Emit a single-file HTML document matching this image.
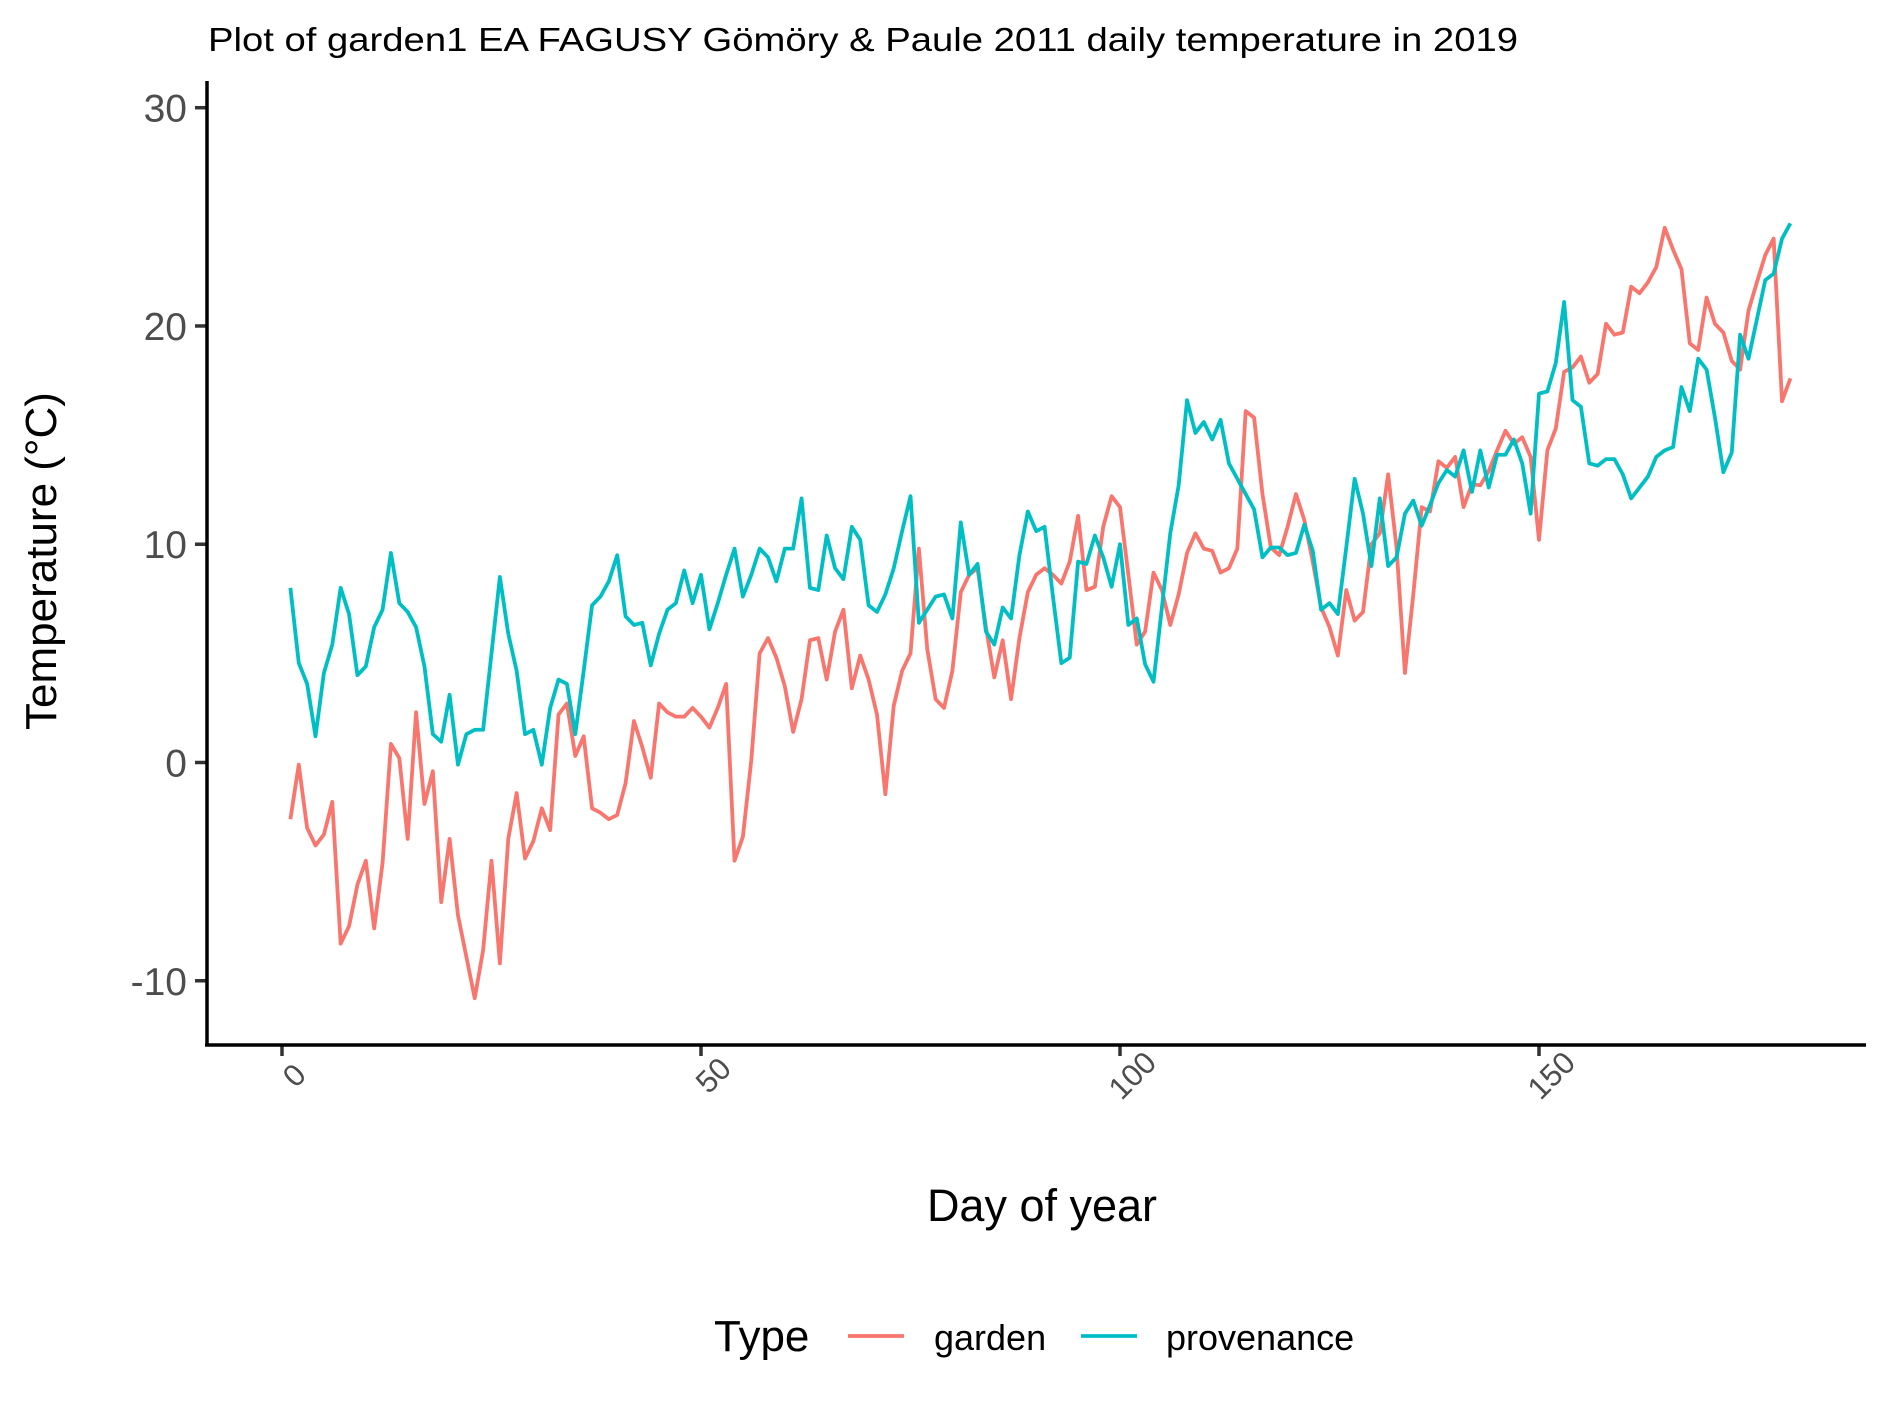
<!DOCTYPE html>
<html><head><meta charset="utf-8"><style>
html,body{margin:0;padding:0;background:#fff;}
svg{display:block;font-family:"Liberation Sans",Arial,sans-serif;}
</style></head><body>
<svg id="chart" width="1889" height="1417" viewBox="0 0 1889 1417">
<text x="208" y="51" font-size="33" fill="#000" textLength="1310" lengthAdjust="spacingAndGlyphs">Plot of garden1 EA FAGUSY Gömöry &amp; Paule 2011 daily temperature in 2019</text>
<g id="yticks"></g>
<g id="xticks"></g>
<g id="series"></g>
<line x1="207" y1="81" x2="207" y2="1045" stroke="#000" stroke-width="3.5"/>
<line x1="205" y1="1045" x2="1866" y2="1045" stroke="#000" stroke-width="3.5"/>
<text transform="translate(56,561) rotate(-90)" text-anchor="middle" font-size="44" fill="#000">Temperature (°C)</text>
<text x="1042" y="1221" text-anchor="middle" font-size="45" fill="#000">Day of year</text>
<g>
<text x="714" y="1351" font-size="44" fill="#000">Type</text>
<line x1="848" y1="1336" x2="904" y2="1336" stroke="#F8766D" stroke-width="3.8"/>
<text x="934" y="1350" font-size="36" fill="#000">garden</text>
<line x1="1081" y1="1336" x2="1137" y2="1336" stroke="#00BFC4" stroke-width="3.8"/>
<text x="1166" y="1350" font-size="36" fill="#000">provenance</text>
</g>
</svg>
<script>
const yTicks = [30, 20, 10, 0, -10];
const xTicks = [0, 50, 100, 150];
const gardenValues = [-2.6,-0.1,-3.0,-3.8,-3.3,-1.8,-8.3,-7.5,-5.6,-4.5,-7.6,-4.6,0.85,0.2,-3.5,2.3,-1.9,-0.4,-6.4,-3.5,-7.0,-8.9,-10.8,-8.6,-4.5,-9.2,-3.5,-1.4,-4.4,-3.6,-2.1,-3.1,2.2,2.7,0.3,1.2,-2.1,-2.3,-2.6,-2.4,-0.95,1.9,0.7,-0.7,2.7,2.3,
2.1,2.1,2.5,2.1,1.6,2.5,3.6,-4.5,-3.4,0.1,5.0,5.7,4.8,3.5,1.4,2.9,5.6,5.7,3.8,6.0,7.0,3.4,4.9,3.8,2.2,-1.45,2.6,4.2,5.0,9.8,5.2,2.9,2.5,4.2,7.8,8.6,8.9,6.2,3.9,5.6,2.9,5.7,7.8,8.6,8.9,
8.6,8.2,9.2,11.3,7.9,8.05,10.8,12.2,11.7,8.6,5.4,6.0,8.7,7.9,6.3,7.7,9.6,10.5,9.8,9.7,8.7,8.9,9.8,16.1,15.8,12.3,9.85,9.5,10.8,12.3,11.1,9.2,7.1,6.2,4.9,7.9,6.5,6.9,10.0,10.5,13.2,9.85,4.1,7.7,
11.7,11.5,13.8,13.5,14.0,11.7,12.75,12.7,13.35,14.3,15.2,14.6,14.9,14.0,10.2,14.3,15.3,17.9,18.1,18.6,17.4,17.8,20.1,19.6,19.7,21.8,21.5,22.0,22.7,24.5,23.5,22.6,19.2,18.9,21.3,20.1,19.7,18.4,18.0,20.7,22.0,23.25,24.0,16.55,17.6];
const provenanceValues = [8.0,4.56,3.6,1.2,4.1,5.4,8.0,6.8,4.0,4.4,6.2,7.0,9.6,7.3,6.9,6.2,4.4,1.3,0.95,3.1,-0.1,1.3,1.5,1.5,5.0,8.5,5.9,4.2,1.3,1.5,-0.1,2.5,3.8,3.6,1.3,4.2,7.2,7.6,8.3,9.5,6.7,6.3,6.4,4.45,5.9,7.0,
7.3,8.8,7.3,8.6,6.1,7.3,8.6,9.8,7.6,8.6,9.8,9.4,8.3,9.8,9.8,12.1,8.0,7.9,10.4,8.9,8.4,10.8,10.2,7.2,6.9,7.7,8.9,10.6,12.2,6.4,7.0,7.6,7.7,6.6,11.0,8.6,9.1,6.0,5.4,7.1,6.6,9.5,11.5,10.6,10.8,
7.6,4.55,4.8,9.2,9.1,10.4,9.4,8.05,10.0,6.3,6.6,4.5,3.7,7.1,10.5,12.7,16.6,15.1,15.6,14.8,15.7,13.7,13.0,12.3,11.6,9.4,9.85,9.85,9.5,9.6,10.9,9.7,7.0,7.3,6.8,9.85,13.0,11.4,9.0,12.1,9.0,9.4,11.4,12.0,
10.85,11.8,12.8,13.4,13.1,14.3,12.4,14.3,12.6,14.1,14.1,14.8,13.7,11.4,16.9,17.0,18.3,21.1,16.6,16.3,13.7,13.6,13.9,13.9,13.2,12.1,12.6,13.1,14.0,14.3,14.45,17.2,16.1,18.5,18.0,15.8,13.3,14.2,19.6,18.5,20.3,22.1,22.4,24.0,24.7];
const firstDay = 1;

const NS = "http://www.w3.org/2000/svg";
function xScale(d){ return 282 + (d - 0) * (701 - 282) / 50; }
function yScale(v){ return 762.5 - v * (762.5 - 107.7) / 30; }

const yg = document.getElementById('yticks');
yTicks.forEach(function(t){
  const y = yScale(t);
  const ln = document.createElementNS(NS,'line');
  ln.setAttribute('x1',195); ln.setAttribute('x2',207);
  ln.setAttribute('y1',y); ln.setAttribute('y2',y);
  ln.setAttribute('stroke','#333'); ln.setAttribute('stroke-width','3.5');
  
  
  yg.appendChild(ln);
  const tx = document.createElementNS(NS,'text');
  tx.setAttribute('x',187); tx.setAttribute('y',y+14);
  tx.setAttribute('text-anchor','end'); tx.setAttribute('font-size','39');
  tx.setAttribute('fill','#4d4d4d');
  tx.textContent = String(t);
  
  
  yg.appendChild(tx);
});

const xg = document.getElementById('xticks');
xTicks.forEach(function(t){
  const x = xScale(t);
  const ln = document.createElementNS(NS,'line');
  ln.setAttribute('x1',x); ln.setAttribute('x2',x);
  ln.setAttribute('y1',1045); ln.setAttribute('y2',1056);
  ln.setAttribute('stroke','#333'); ln.setAttribute('stroke-width','3.5');
  
  
  xg.appendChild(ln);
  const tx = document.createElementNS(NS,'text');
  const cx = x + 12, cy = 1075;
  tx.setAttribute('x',cx); tx.setAttribute('y',cy + 11);
  tx.setAttribute('text-anchor','middle'); tx.setAttribute('font-size','31');
  tx.setAttribute('fill','#4d4d4d');
  tx.setAttribute('transform','rotate(-45 '+cx+' '+cy+')');
  tx.textContent = String(t);
  
  
  xg.appendChild(tx);
});

const sg = document.getElementById('series');
function drawSeries(vals, color, name){
  const pts = vals.map(function(v,i){ return xScale(firstDay + i).toFixed(2)+','+yScale(v).toFixed(2); });
  const pl = document.createElementNS(NS,'polyline');
  pl.setAttribute('points', pts.join(' '));
  pl.setAttribute('fill','none'); pl.setAttribute('stroke',color);
  pl.setAttribute('stroke-width','3.8'); pl.setAttribute('stroke-linejoin','round');
  
  
  sg.appendChild(pl);
}
drawSeries(gardenValues, '#F8766D', 'garden-line');
drawSeries(provenanceValues, '#00BFC4', 'provenance-line');
</script>
</body></html>
